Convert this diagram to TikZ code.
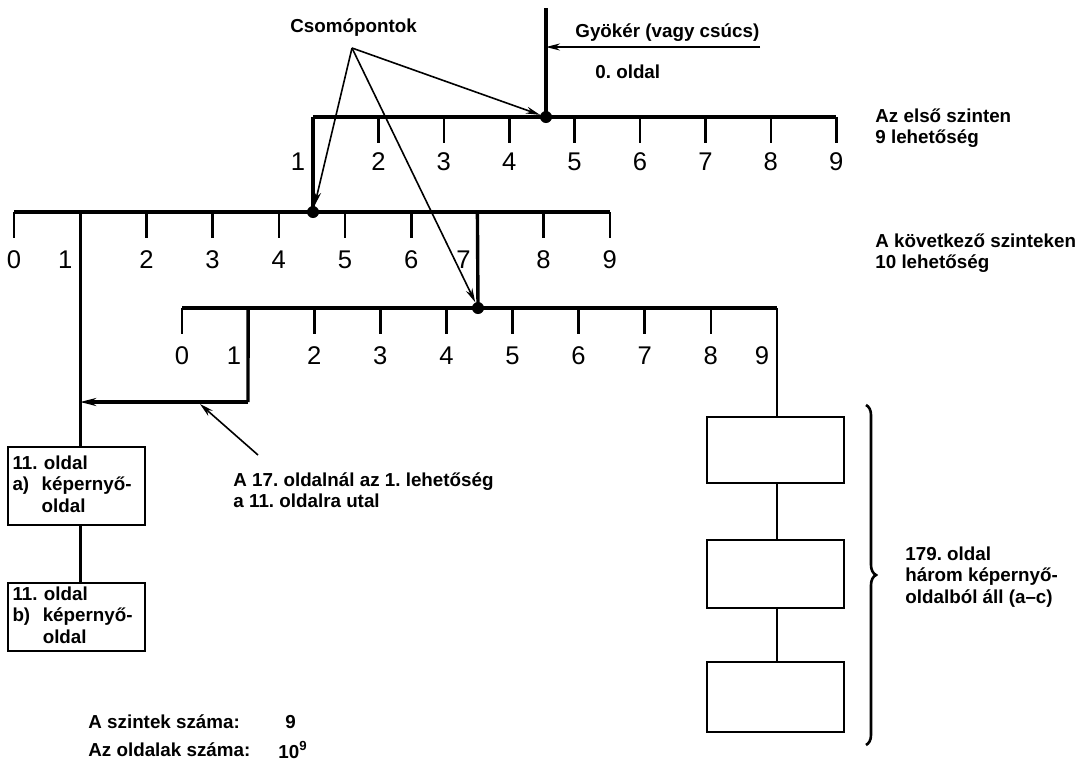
\documentclass[tikz,border=0pt]{standalone}
\usepackage{fontspec}
\setmainfont{Liberation Sans}
\usetikzlibrary{arrows.meta, positioning, decorations.pathreplacing}
\frenchspacing

\tikzset{
  bar/.style={line width=1.7pt},
  tk/.style={line width=1.3pt},
  digit/.style={font=\fontsize{12.8}{12.8}\selectfont, inner sep=0pt},
  txt/.style={font=\bfseries\fontsize{9.4}{10.8}\selectfont, align=left, inner sep=0pt},
  knot/.style={circle, fill, inner sep=0pt, minimum size=6pt},
  page/.style={draw, line width=1.3pt, minimum width=68.5pt, minimum height=34pt, inner sep=2pt},
  ptr/.style={-{Stealth[length=7pt,width=3.5pt]}, line width=0.8pt}
}

\begin{document}
\begin{tikzpicture}[x=0.5pt, y=-0.5pt]
  \useasboundingbox (0,0) rectangle (1087,772);

  % first level: 1..9
  \foreach \i in {1,...,9} \coordinate (a\i) at ({313+(\i-1)*65.4},117);
  \draw[bar] (a1) -- (a9);
  \foreach \i in {2,...,9} {
    \draw[tk] (a\i) -- ++(0,26);
    \path (a\i) ++(0,45) node[digit] (na\i) {\i};
  }
  \path (a1) ++(-15,45) node[digit] (na1) {1};
  \coordinate (root) at (546,8);
  \node[knot] (k1) at (546,117) {};
  \draw[bar] (root) -- (k1.center);

  % next level: 0..9
  \foreach \i in {0,...,9} \coordinate (b\i) at ({14+\i*66.2},212);
  \draw[bar] (b0) -- (b9);
  \foreach \i in {0,2,3,4,5,6,8,9} {
    \draw[tk] (b\i) -- ++(0,26);
    \path (b\i) ++(0,48) node[digit] (nb\i) {\i};
  }
  \path (b1) ++(-15,48) node[digit] (nb1) {1};
  \path (b7) ++(-14,48) node[digit] (nb7) {7};
  \node[knot] (k2) at (313,212) {};
  \draw[bar] (a1) -- (k2.center);

  % third level: 0..9
  \foreach \i in {0,...,9} \coordinate (c\i) at ({182+\i*66.1},308);
  \draw[bar] (c0) -- (c9);
  \foreach \i in {0,2,3,4,5,6,7,8} {
    \draw[tk] (c\i) -- ++(0,26);
    \path (c\i) ++(0,48) node[digit] (nc\i) {\i};
  }
  \path (c1) ++(-14,48) node[digit] (nc1) {1};
  \path (c9) ++(-15,48) node[digit] (nc9) {9};
  \node[knot] (k3) at (478,308) {};
  \draw[bar] (b7) -- (k3.center);

  % link from page 17 to page 11
  \coordinate (turn) at (248,402);
  \draw[bar] (c1) -- (turn);
  \draw[bar, -{Stealth[length=8pt,width=4pt]}] (turn) -- (turn -| b1);

  % pages
  \node[page, txt, text width=64pt, minimum height=39pt] (p11a) at (76.5,486)
    {11. oldal\\a)\ \ képernyő-\\\phantom{a)\ \ }oldal};
  \node[page, txt, text width=64pt] (p11b) at (76.5,617)
    {11. oldal\\b)\ \ képernyő-\\\phantom{b)\ \ }oldal};
  \draw[bar] (b1) -- (b1 |- p11a.north);
  \draw[tk] (p11a.south -| b1) -- (p11b.north -| b1);

  \node[page, minimum height=33pt] (s1) at (775.5,450) {};
  \node[page] (s2) at (775.5,574) {};
  \node[page, minimum height=35pt] (s3) at (775.5,697) {};
  \draw[tk] (c9) -- (c9 |- s1.north);
  \draw[tk] (s1.south -| c9) -- (s2.north -| c9);
  \draw[tk] (s2.south -| c9) -- (s3.north -| c9);

  % brace
  \coordinate (brtop) at (866,405);
  \coordinate (brbot) at (866,745);
  \draw[tk, decorate, decoration={brace, amplitude=5pt}] (brtop) -- (brbot);

  % labels
  \node[txt, anchor=west] (csomo) at (290,28) {Csomópontok};
  \coordinate (fan) at (352,48);
  \draw[ptr] (fan) -- (k1);
  \draw[ptr] (fan) -- (k2);
  \draw[ptr] (fan) -- (k3);

  \node[txt, anchor=west] (gyoker) at (575,33) {Gyökér (vagy csúcs)};
  \coordinate (gyend) at (760,47);
  \draw[ptr] (gyend) -- (gyend -| k1);
  \node[txt, anchor=west] (oldal0) at (595,72) {0. oldal};

  \node[txt, anchor=west] (elso) at (875,128) {Az első szinten\\9 lehetőség};
  \node[txt, anchor=west] (kov) at (875,253) {A következő szinteken\\10 lehetőség};

  \node[txt, anchor=north west] (utal) at (233,472) {A 17. oldalnál az 1. lehetőség\\a 11. oldalra utal};
  \coordinate (utalfrom) at (258,455);
  \coordinate (utalto) at (200,404);
  \draw[ptr] (utalfrom) -- (utalto);

  \node[txt, anchor=west] (n179) at (905,577) {179. oldal\\három képernyő-\\oldalból áll (a--c)};

  \node[txt, anchor=west] (szint) at (88,722) {A szintek száma:};
  \node[txt, anchor=west] (szintv) at (285,722) {9};
  \node[txt, anchor=west] (oldszam) at (88,750) {Az oldalak száma:};
  \node[txt, anchor=west] (oldv) at (278,750) {10\textsuperscript{9}};
\end{tikzpicture}
\end{document}
